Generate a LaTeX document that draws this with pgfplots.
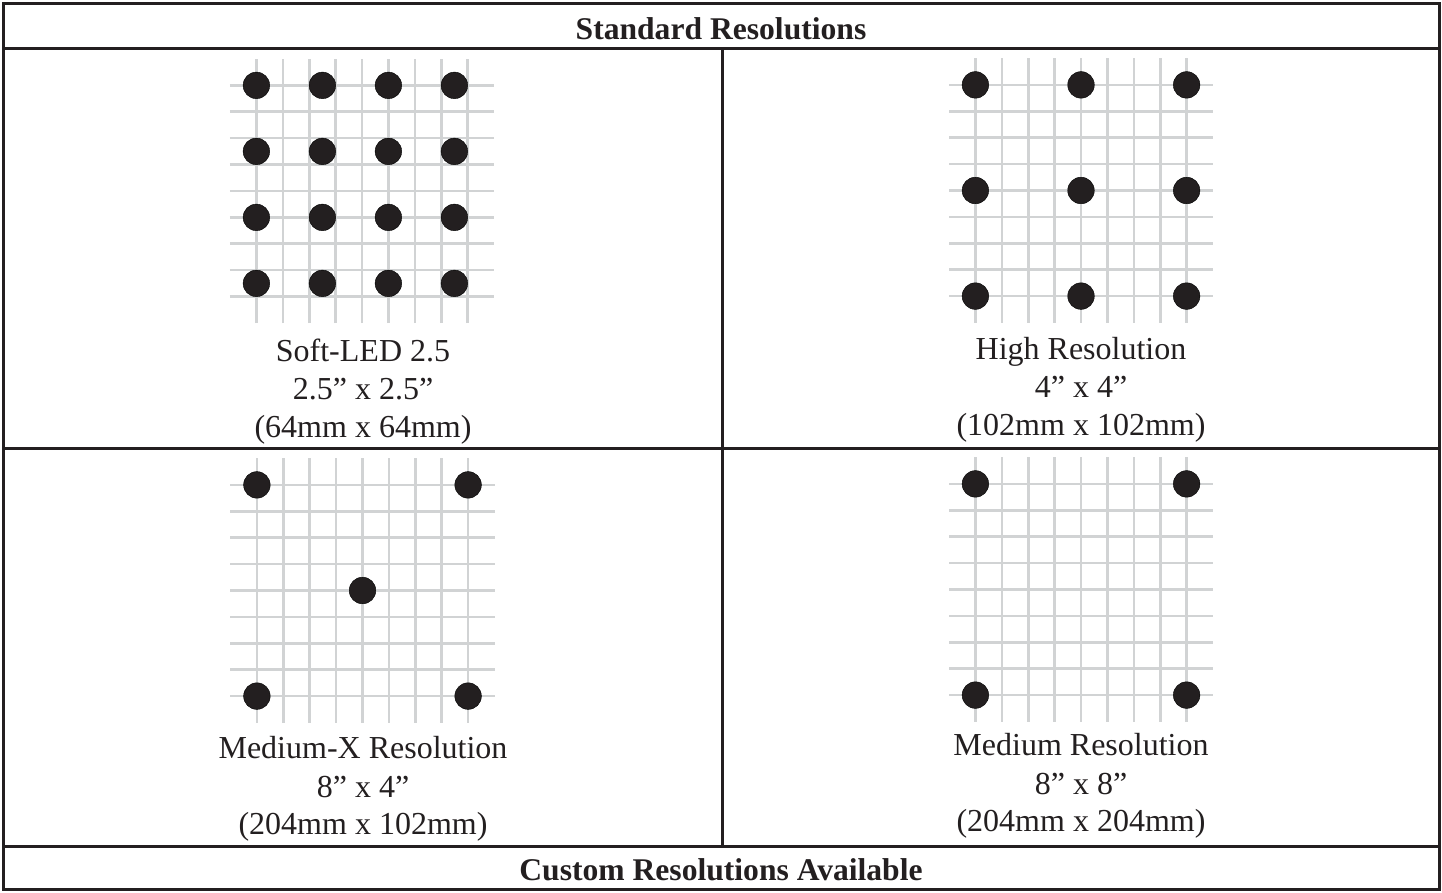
\documentclass[border=0pt]{standalone}
\usepackage{fontspec}
\setmainfont{Liberation Serif}
\usepackage{pgfplots}
\pgfplotsset{compat=1.18}
\usepackage{pgfplotstable}

\definecolor{dotblack}{RGB}{35,31,32}
\definecolor{gridgray}{RGB}{209,211,212}

% one panel = a 1-inch grid (0..8) with the pixel dots on it
\pgfplotsset{
  panel/.style={
    width=264pt, height=264pt, scale only axis,
    xmin=-1, xmax=9, ymin=-1, ymax=9,
    xtick={0,...,8}, ytick={0,...,8},
    xticklabel=\empty, yticklabel=\empty,
    major tick length=0pt,
    grid=major,
    grid style={line width=2.6pt, color=gridgray},
    axis line style={draw=none},
    clip=false, anchor=center,
  },
  dots/.style={only marks, mark=*, mark size=13.3pt,
    mark options={fill=dotblack, draw=none}},
}

% dot positions, in inches
\pgfplotstableread{
x y
0 8
2.5 8
5 8
7.5 8
0 5.5
2.5 5.5
5 5.5
7.5 5.5
0 3
2.5 3
5 3
7.5 3
0 0.5
2.5 0.5
5 0.5
7.5 0.5
}\softled
\pgfplotstableread{
x y
0 8
4 8
8 8
0 4
4 4
8 4
0 0
4 0
8 0
}\highres
\pgfplotstableread{
x y
0 8
8 8
4 4
0 0
8 0
}\mediumx
\pgfplotstableread{
x y
0 8
8 8
0 0
8 0
}\medium

\begin{document}
\begin{tikzpicture}
\path[use as bounding box] (0pt,0pt) rectangle (1442pt,892pt);

\begin{scope}[x=1pt, y=1pt]
% table frame
\begin{scope}[line width=3pt, draw=dotblack]
  \draw (3.5,888.5) rectangle (1439.5,2.5);
  \draw (3.5,843) -- (1439.5,843);
  \draw (3.5,443) -- (1439.5,443);
  \draw (3.5,45.5) -- (1439.5,45.5);
  \draw (722,843) -- (722,45.5);
\end{scope}

\node[font=\fontsize{31.6}{38}\selectfont\bfseries, text=dotblack] at (721,863) {Standard Resolutions};
\node[font=\fontsize{31.6}{38}\selectfont\bfseries, text=dotblack] at (721,22) {Custom Resolutions Available};

\begin{scope}[every node/.style={font=\fontsize{32}{38}\selectfont, text=dotblack, anchor=base}]
  \node at (363,530.3) {Soft-LED 2.5};
  \node at (363,492) {2.5” x 2.5”};
  \node at (363,454.5) {(64mm x 64mm)};
  \node at (1081,532.5) {High Resolution};
  \node at (1081,494.5) {4” x 4”};
  \node at (1081,456.5) {(102mm x 102mm)};
  \node at (363,133.3) {Medium-X Resolution};
  \node at (363,95) {8” x 4”};
  \node at (363,57.5) {(204mm x 102mm)};
  \node at (1081,136.3) {Medium Resolution};
  \node at (1081,98) {8” x 8”};
  \node at (1081,60.5) {(204mm x 204mm)};
\end{scope}
\end{scope}

\begin{axis}[panel, at={(362pt,701pt)}]
\addplot[dots] table {\softled};
\end{axis}
\begin{axis}[panel, at={(1081pt,701.5pt)}]
\addplot[dots] table {\highres};
\end{axis}
\begin{axis}[panel, at={(362.5pt,301.5pt)}]
\addplot[dots] table {\mediumx};
\end{axis}
\begin{axis}[panel, at={(1081pt,302.5pt)}]
\addplot[dots] table {\medium};
\end{axis}
\end{tikzpicture}
\end{document}
